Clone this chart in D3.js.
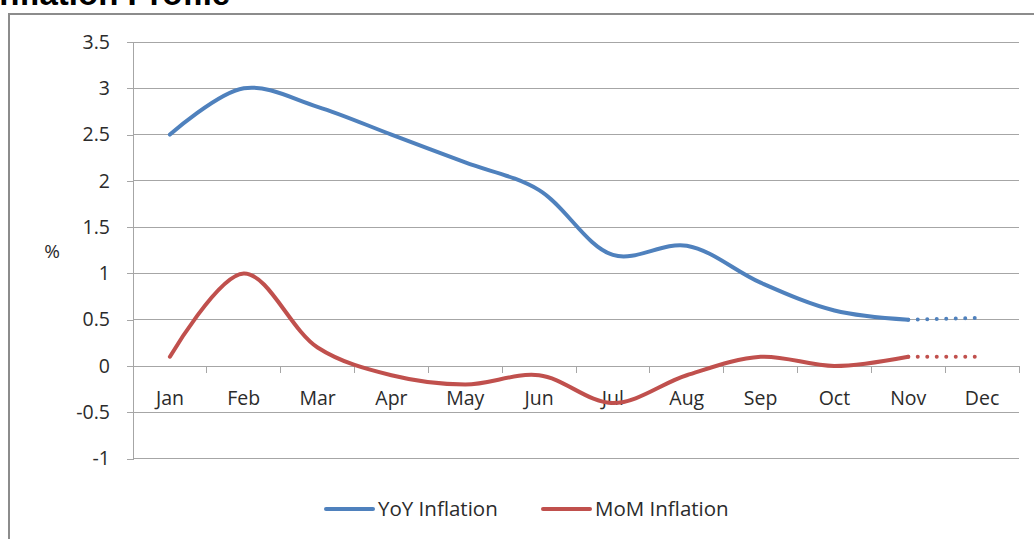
<!DOCTYPE html>
<html><head><meta charset="utf-8">
<script src="https://cdn.jsdelivr.net/npm/d3@7"></script>
<style>body{margin:0;background:#fff;} svg{display:block;}</style>
</head><body>
<script>
const months = ["Jan","Feb","Mar","Apr","May","Jun","Jul","Aug","Sep","Oct","Nov","Dec"];
const yoyValues = [2.5, 3.0, 2.8, 2.5, 2.2, 1.9, 1.2, 1.3, 0.9, 0.6, 0.5];
const yoyForecast = [0.5, 0.52];
const momValues = [0.1, 1.0, 0.2, -0.1, -0.2, -0.1, -0.4, -0.1, 0.1, 0.0, 0.1];
const momForecast = [0.1, 0.1];
const yTicks = [-1, -0.5, 0, 0.5, 1, 1.5, 2, 2.5, 3, 3.5];
const seriesNames = ["YoY Inflation", "MoM Inflation"];
const colors = ["#4F81BD", "#C0504D"];

const W = 1034, H = 539;
const svg = d3.select("body").append("svg").attr("width", W).attr("height", H);
const font = "'Open Sans', Lato, sans-serif";
const txt = "#2b2b2b";

// title (cut off at top, as in the reference)
svg.append("text").attr("x", -10).attr("y", 5)
  .attr("font-family", "'Liberation Sans', Arial, sans-serif").attr("font-weight", "bold")
  .attr("font-size", 33).attr("fill", "#000").text("Inflation Profile");

// outer frame
svg.append("path").attr("d", `M9,${H} L9,14 L${W},14`).attr("fill", "none")
  .attr("stroke", "#8c8c8c").attr("stroke-width", 2);

const x = d3.scaleBand().domain(months).range([133, 1019]);
const y = d3.scaleLinear().domain([-1, 3.5]).range([458.6, 42]);

// gridlines
svg.append("g").selectAll("line").data(yTicks).join("line")
  .attr("x1", 133).attr("x2", 1019).attr("y1", d => y(d)).attr("y2", d => y(d))
  .attr("stroke", "#a6a6a6").attr("stroke-width", 1).attr("shape-rendering", "crispEdges");

// y axis
const yAxis = d3.axisLeft(y).tickValues(yTicks).tickSize(6).tickPadding(17).tickFormat(d => String(d));
const gy = svg.append("g").attr("transform", "translate(133,0)").call(yAxis);
gy.select(".domain").attr("stroke", "#a6a6a6").attr("shape-rendering", "crispEdges");
gy.selectAll(".tick line").attr("stroke", "#a6a6a6").attr("shape-rendering", "crispEdges");
gy.selectAll("text").attr("font-family", font).attr("font-size", 19.5).attr("fill", txt);

svg.append("text").attr("x", 52).attr("y", 258).attr("text-anchor", "middle")
  .attr("font-family", font).attr("font-size", 19).attr("fill", txt).text("%");

// x axis at zero
const gx = svg.append("g").attr("transform", `translate(0,${y(0)})`);
gx.append("line").attr("x1", 133).attr("x2", 1019).attr("stroke", "#a6a6a6").attr("shape-rendering", "crispEdges");
const bounds = months.map(m => x(m)).concat([x.range()[1]]);
gx.selectAll(".tk").data(bounds).join("line").attr("class", "tk")
  .attr("x1", d => d).attr("x2", d => d).attr("y1", 0).attr("y2", 7)
  .attr("stroke", "#a6a6a6").attr("shape-rendering", "crispEdges");
gx.selectAll("text").data(months).join("text")
  .attr("x", d => x(d) + x.bandwidth() / 2).attr("y", 39).attr("text-anchor", "middle")
  .attr("font-family", font).attr("font-size", 19.5).attr("fill", txt).text(d => d);

const cx = i => x(months[i]) + x.bandwidth() / 2;
const line = d3.line().x(d => cx(d.i)).y(d => y(d.v)).curve(d3.curveCatmullRom.alpha(0.5));

function drawSeries(vals, fc, color) {
  svg.append("path").datum(vals.map((v, i) => ({ i, v })))
    .attr("d", line).attr("fill", "none").attr("stroke", color)
    .attr("stroke-width", 4).attr("stroke-linecap", "round").attr("stroke-linejoin", "round");
  const start = vals.length - 1;
  svg.append("path").datum(fc.map((v, k) => ({ i: start + k, v })))
    .attr("d", line).attr("fill", "none").attr("stroke", color)
    .attr("stroke-width", 4).attr("stroke-linecap", "round").attr("stroke-dasharray", "0 9.5")
    .attr("stroke-dashoffset", -9.5);
}
drawSeries(yoyValues, yoyForecast, colors[0]);
drawSeries(momValues, momForecast, colors[1]);

// legend
const leg = [{ x: 326, name: seriesNames[0], c: colors[0] }, { x: 543, name: seriesNames[1], c: colors[1] }];
leg.forEach(l => {
  svg.append("line").attr("x1", l.x).attr("x2", l.x + 47).attr("y1", 509).attr("y2", 509)
    .attr("stroke", l.c).attr("stroke-width", 4).attr("stroke-linecap", "round");
  svg.append("text").attr("x", l.x + 52).attr("y", 516).attr("font-family", font)
    .attr("font-size", 20.5).attr("fill", txt).text(l.name);
});
</script>
</body></html>
